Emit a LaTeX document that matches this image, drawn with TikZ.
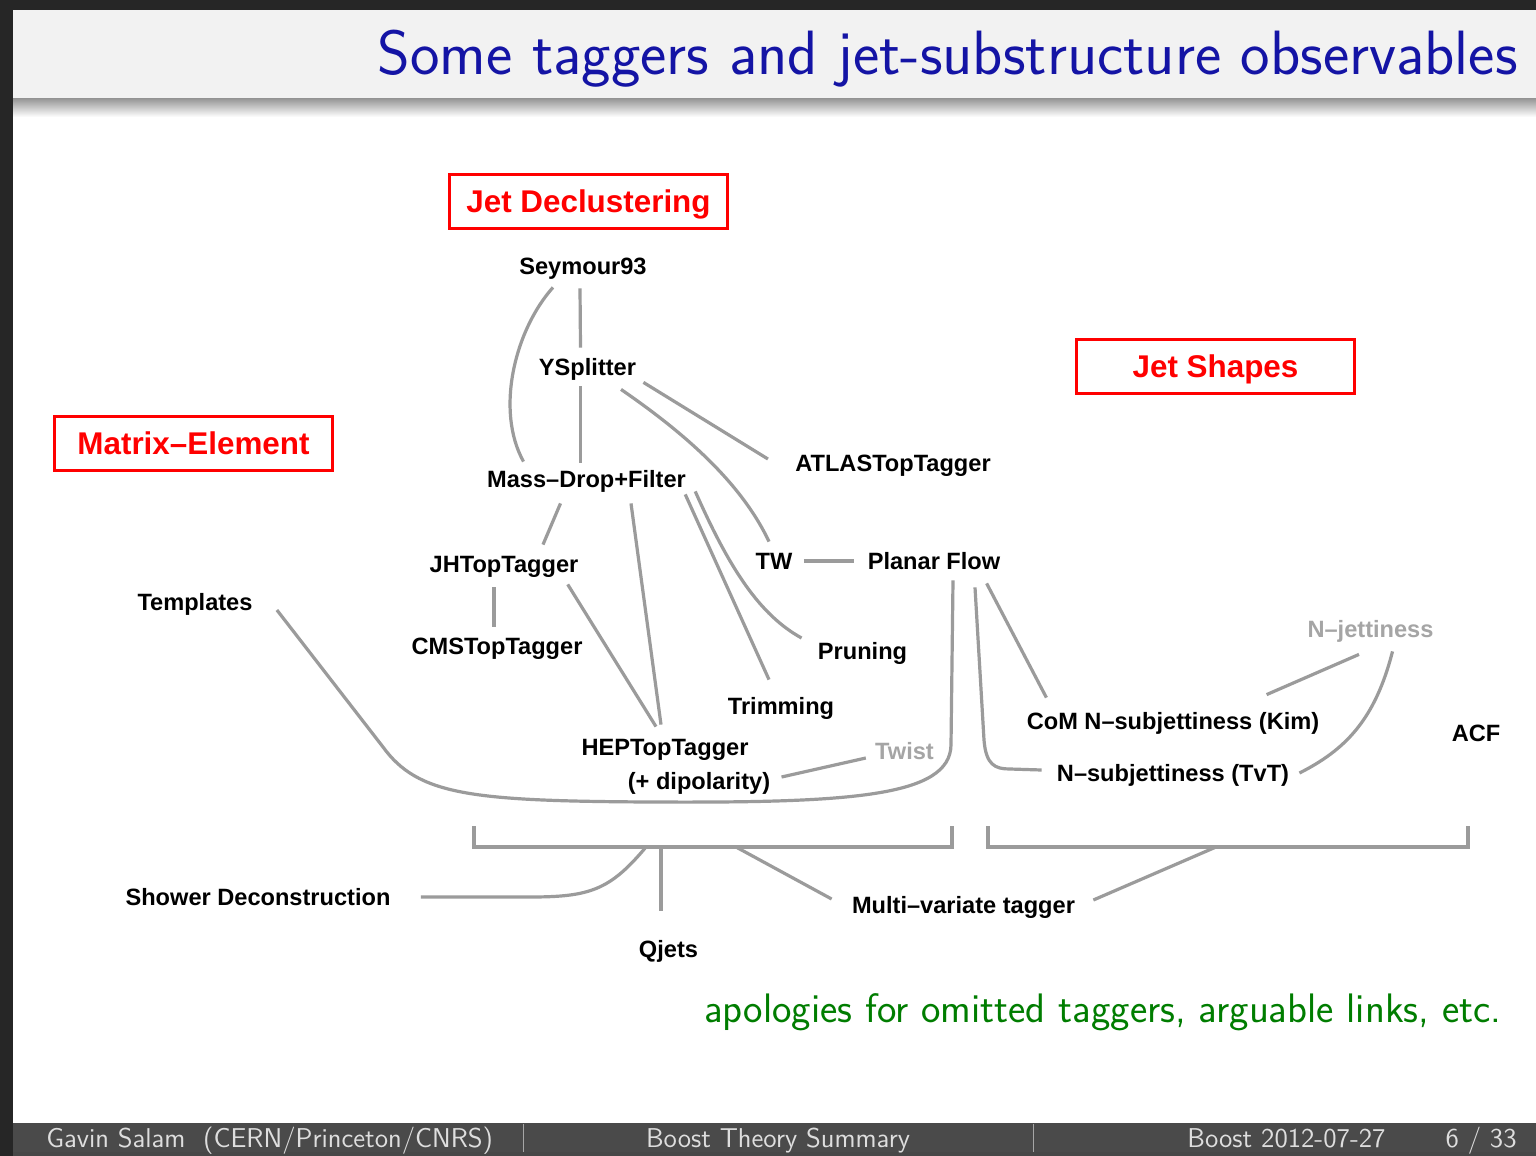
\documentclass[tikz,border=0pt]{standalone}
\usepackage{fontspec}
\newfontfamily\arialfont{Liberation Sans}
\usetikzlibrary{calc}
\definecolor{titleblue}{RGB}{20,20,165}
\definecolor{mygreen}{RGB}{0,125,0}
\definecolor{myred}{RGB}{255,0,0}
\definecolor{linkgray}{RGB}{155,155,155}
\definecolor{fadegray}{RGB}{165,165,165}
\definecolor{barbg}{RGB}{242,242,242}
\definecolor{footbg}{RGB}{74,74,74}
\definecolor{foottext}{RGB}{222,222,222}
\definecolor{edgedark}{RGB}{38,38,38}
\tikzset{
  tag/.style={font=\arialfont\bfseries\fontsize{11.8}{14}\selectfont, anchor=base,
    inner sep=3pt, text height=9pt, text depth=3pt},
  faded/.style={tag, text=fadegray},
  category/.style={draw=myred, line width=1.5pt, text=myred, inner sep=0pt,
    font=\arialfont\bfseries\fontsize{15.7}{18}\selectfont,
    text height=11.2pt, text depth=0pt,
    minimum width=139pt, minimum height=27pt},
  link/.style={draw=linkgray, line width=1.6pt},
  foot/.style={font=\sffamily\fontsize{13.6}{15}\selectfont, text=foottext,
    anchor=base, inner sep=0pt}
}
\begin{document}
\begin{tikzpicture}[x=0.5pt,y=-0.5pt]
\useasboundingbox (0,0) rectangle (1536,1156);

% slide frame
\fill[white] (0,0) rectangle (1536,1156);
\fill[barbg] (13,10) rectangle (1536,99);
\shade[top color=gray!80, bottom color=white] (13,99) rectangle (1536,117);
\fill[edgedark] (0,0) rectangle (1536,10);
\fill[edgedark] (0,0) rectangle (13,1156);
\fill[footbg] (13,1123) rectangle (1536,1156);
\fill[edgedark!85] (13,1152) rectangle (1536,1156);
\draw[gray!70, line width=0.5pt] (523,1124) -- (523,1152);
\draw[gray!70, line width=0.5pt] (1033,1124) -- (1033,1152);

\node[anchor=base east, inner sep=0pt, text=titleblue, font=\sffamily\fontsize{31.3}{36}\selectfont]
  (title) at (1518,75) {Some taggers and jet-substructure observables};

% categories
\node[category] (jetdecl) at (588.5,201.5) {Jet Declustering};
\node[category] (matrix) at (193.5,443) {Matrix–Element};
\node[category] (shapes) at (1215.5,366) {Jet Shapes};

% taggers
\node[tag] (seymour) at (583,274) {Seymour93};
\node[tag] (ysplit) at (587.5,375) {YSplitter};
\node[tag] (atlas) at (893,471) {ATLASTopTagger};
\node[tag] (massdrop) at (586.5,487) {Mass–Drop+Filter};
\node[tag] (jhtop) at (504,572) {JHTopTagger};
\node[tag] (tw) at (774,569) {TW};
\node[tag] (planar) at (934,569) {Planar Flow};
\node[tag] (templates) at (195,610) {Templates};
\node[tag] (cmstop) at (497,654) {CMSTopTagger};
\node[tag] (pruning) at (862.5,659) {Pruning};
\node[faded] (njet) at (1370.5,637) {N–jettiness};
\node[tag] (trimming) at (781,714) {Trimming};
\node[tag] (kim) at (1173,729) {CoM N–subjettiness (Kim)};
\node[tag] (acf) at (1476,741) {ACF};
\node[tag] (heptop) at (665,755) {HEPTopTagger};
\node[tag] (dipol) at (699,789) {(+ dipolarity)};
\node[faded] (twist) at (904.5,759) {Twist};
\node[tag] (tvt) at (1173,781) {N–subjettiness (TvT)};
\node[tag] (shower) at (258,905) {Shower Deconstruction};
\node[tag] (mva) at (963.5,913) {Multi–variate tagger};
\node[tag] (qjets) at (668.5,957) {Qjets};

% declustering links
\draw[link] ([shift={(-30,1)}]seymour.south) .. controls (515,330) and (495,410) .. ([shift={(-63,-1)}]massdrop.north);
\draw[link] ([shift={(-3,2)}]seymour.south) -- ([shift={(-7,-3)}]ysplit.north);
\draw[link] ([shift={(-7,-1)}]ysplit.south) -- ([shift={(-6,0)}]massdrop.north);
\draw[link] ([shift={(1,-5)}]ysplit.south east) -- ([shift={(-21,-6)}]atlas.west);
\draw[link] ([shift={(33.5,2)}]ysplit.south) .. controls (680,430) and (740,480) .. ([shift={(-5,-3)}]tw.north);
\draw[link] ([shift={(-26,4)}]massdrop.south) -- ([shift={(39,-3)}]jhtop.north);
\draw[link] ([shift={(-10,3)}]jhtop.south) -- ([shift={(-3,-3)}]cmstop.north);
\draw[link] ([shift={(-17,0)}]jhtop.south east) -- ([shift={(-9,-4)}]heptop.north);
\draw[link] ([shift={(44.5,4)}]massdrop.south) -- ([shift={(-4,-6)}]heptop.north);
\draw[link] ([shift={(-7,-5)}]massdrop.south east) -- ([shift={(-12,-10)}]trimming.north);
\draw[link] ([shift={(3,-8)}]massdrop.south east) .. controls (730,570) and (760,615) .. ([shift={(-10,-15)}]pruning.west);
\draw[link] ([shift={(5,-2)}]tw.east) -- ([shift={(-7,-2)}]planar.west);
\draw[link] ([shift={(-3,5)}]twist.west) -- ([shift={(5,-6)}]dipol.east);

% templates to planar flow
\draw[link] ([shift={(18,6)}]templates.east) -- (383,747)
  .. controls (418,795) and (470,801) .. (650,802)
  .. controls (850,803) and (950,797) .. (951,745)
  -- ([shift={(19,-1)}]planar.south);

% jet shapes links
\draw[link] ([shift={(-20,2)}]planar.south east) -- ([shift={(26,-7)}]kim.north west);
\draw[link] ([shift={(41,6)}]planar.south) -- (984,740)
  .. controls (986,765) and (995,769) .. (1010,769) -- ([shift={(-9,-5)}]tvt.west);
\draw[link] ([shift={(-59,-10)}]kim.north east) -- ([shift={(-11.5,5)}]njet.south);
\draw[link] ([shift={(4,-2)}]tvt.east) .. controls (1345,750) and (1375,720) .. ([shift={(22,2)}]njet.south);

% brackets
\draw[link] (474,826) -- (474,847) -- (952,847) -- (952,826);
\draw[link] (988,826) -- (988,847) -- (1468,847) -- (1468,826);
\coordinate (brshower) at (646,847);
\coordinate (brqjets) at (661,847);
\coordinate (brmvaL) at (736,847);
\coordinate (brmvaR) at (1216,847);
\draw[link] (brshower) .. controls (610,890) and (590,897) .. (530,897) -- ([shift={(24,-2)}]shower.east);
\draw[link] (brqjets) -- ([shift={(-7.5,-22)}]qjets.north);
\draw[link] (brmvaL) -- ([shift={(-14,-8)}]mva.west);
\draw[link] (brmvaR) -- ([shift={(12,-7)}]mva.east);

\node[anchor=base east, inner sep=0pt, text=mygreen, font=\sffamily\fontsize{20.6}{24}\selectfont]
  (apology) at (1502,1022) {apologies for omitted taggers, arguable links, etc.};

% footline
\node[foot, anchor=base west] (author) at (46,1147) {Gavin Salam\ \ (CERN/Princeton/CNRS)};
\node[foot] (talk) at (778,1147) {Boost Theory Summary};
\node[foot, anchor=base west] (conf) at (1187,1147) {Boost 2012-07-27};
\node[foot, anchor=base east] (page) at (1517,1147) {6 / 33};
\end{tikzpicture}
\end{document}
